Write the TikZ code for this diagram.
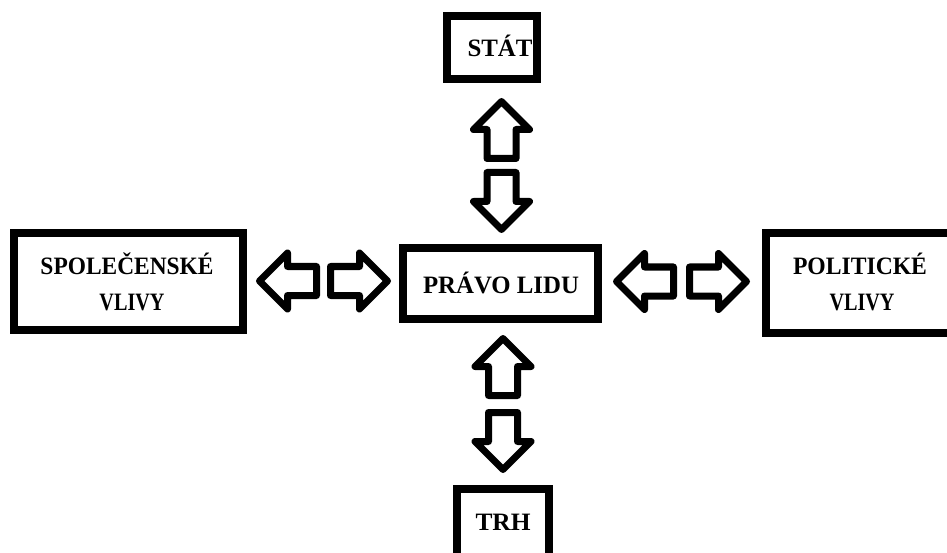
\documentclass[tikz,border=0pt]{standalone}
\usepackage{fontspec}
\setmainfont{Liberation Serif}
\usepackage{graphicx}
\newcommand{\fitw}[2]{\resizebox{#1}{\height}{#2}}
\tikzset{
  boxframe/.style={draw=black, line width=8pt, fill=white, inner sep=0pt, rectangle},
  lbl/.style={anchor=base, inner sep=0pt, text=black, font=\fontsize{25}{30}\selectfont\bfseries},
  arrowline/.style={draw=black, line width=7pt, line join=round, fill=white},
  blockarrow/.pic={\path[arrowline] (0,14.5) -- (29,14.5) -- (29,28) -- (57,0) -- (29,-28) -- (29,-14.5) -- (0,-14.5) -- cycle;}
}
\begin{document}
\begin{tikzpicture}[x=1pt, y=-1pt]
\clip (0,0) rectangle (947,553);
\fill[white] (0,0) rectangle (947,553);
% boxes
\node[boxframe, minimum width=90, minimum height=63] (stat) at (492,47.5) {};
\node[boxframe, minimum width=229, minimum height=97] (spol) at (128.5,281.5) {};
\node[boxframe, minimum width=195, minimum height=71] (pravo) at (500.5,283.5) {};
\node[boxframe, minimum width=194, minimum height=100] (polit) at (863,283) {};
\node[boxframe, minimum width=92, minimum height=81] (trh) at (503,529.5) {};
% texts
\node[lbl] (tstat) at (500,57) {\fitw{65pt}{STÁT}};
\node[lbl] (tspol1) at (127,275) {\fitw{173pt}{SPOLEČENSKÉ}};
\node[lbl] (tspol2) at (132,310.5) {\fitw{65pt}{VLIVY}};
\node[lbl] (tpravo) at (501,294) {\fitw{156pt}{PRÁVO LIDU}};
\node[lbl] (tpol1) at (860,275) {\fitw{134pt}{POLITICKÉ}};
\node[lbl] (tpol2) at (862,310.5) {\fitw{65pt}{VLIVY}};
\node[lbl] (ttrh) at (503,530) {\fitw{55pt}{TRH}};
% block arrows
\pic (aup1) at (501.5,158.5) [rotate=90] {blockarrow};
\pic (adn1) at (501.5,172.5) [rotate=-90] {blockarrow};
\pic (aup2) at (503,395.5) [rotate=90] {blockarrow};
\pic (adn2) at (503,412.5) [rotate=-90] {blockarrow};
\pic (alf1) at (316.5,281) [rotate=180] {blockarrow};
\pic (art1) at (330.5,281) {blockarrow};
\pic (alf2) at (673.5,281.5) [rotate=180] {blockarrow};
\pic (art2) at (689.5,281.5) {blockarrow};
\end{tikzpicture}
\end{document}
